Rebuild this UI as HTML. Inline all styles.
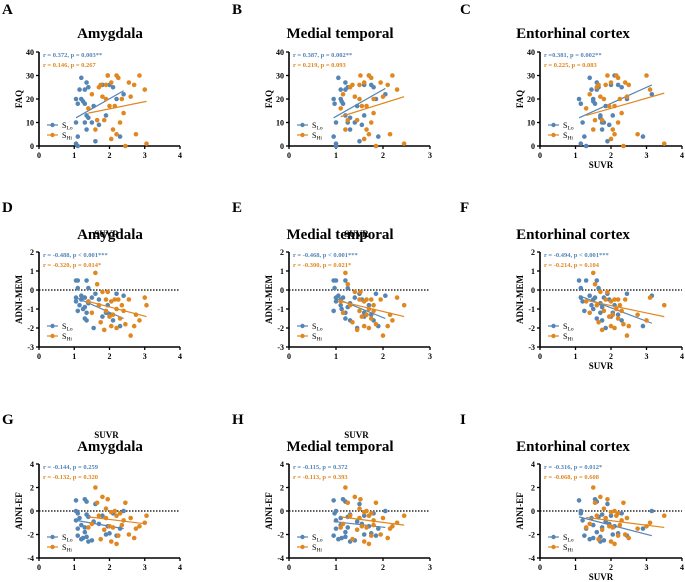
<!DOCTYPE html>
<html><head><meta charset="utf-8"><style>
body{margin:0;background:#fff;}
svg{display:block;font-family:"Liberation Serif",serif;}
</style></head><body>
<svg id="fig" width="685" height="582" viewBox="0 0 685 582"></svg>
<script>
// ---- data ----
const faqLo=[20,18,10,4,1,0,29,24,20,19,18,24,27,25,13,12,10,7,10,17,2,9,26,13,30,26,25,20,4,22];
const faqHi=[16,22,7,11,25,26,21,11,20,26,30,17,27,3,7,17,5,30,29,10,20,14,0,27,21,26,5,30,24,1];
const memLo=[0.5,0.1,-0.6,-1.1,-0.4,0.5,-0.3,-0.8,-0.5,-1.0,-0.4,-1.5,0.5,0.1,-1.2,-0.7,-0.9,-1.6,-0.4,-2.0,-0.2,-0.5,-1.4,-1.2,-0.8,-1.3,-1.6,-0.2,-1.9,-0.3];
const memHi=[-0.6,-1.2,0.9,0.3,-0.8,-1.7,-0.1,-2.1,-1.1,-0.5,-0.1,-1.4,-0.6,-1.9,-1.3,-0.5,-2.0,-1.0,-0.5,-1.5,-0.8,-1.1,-1.8,-0.5,-2.4,-1.9,-1.3,-1.6,-0.4,-0.8];
const efLo=[0.9,-0.2,-0.8,-2.1,0.0,-1.5,-2.4,-0.6,-1.2,-2.3,1.0,-1.8,0.8,-0.5,-2.2,-2.6,-1.4,-0.3,-2.5,-0.9,0.6,-1.1,-0.4,-2.0,-1.3,-1.9,-0.2,-2.1,-1.5,0.0];
const efHi=[-1.4,-1.1,2.0,0.7,-0.4,-2.4,1.2,-1.6,0.2,-0.6,1.0,-1.3,-0.1,-2.6,-1.4,0.0,-2.8,-0.4,-2.1,-0.2,-1.2,-0.8,0.7,-2.0,-0.6,-2.3,-1.5,-1.3,-1.0,-0.4];
const xLoA=[1.05,1.1,1.05,1.1,1.05,1.1,1.2,1.15,1.2,1.25,1.3,1.3,1.35,1.4,1.35,1.4,1.3,1.35,1.5,1.55,1.6,1.7,1.8,1.9,1.95,2.0,2.1,2.2,2.3,2.4];
const xHiA=[1.4,1.5,1.6,1.65,1.7,1.75,1.8,1.85,1.9,1.9,1.95,2.0,2.05,2.05,2.1,2.15,2.2,2.2,2.25,2.3,2.35,2.4,2.45,2.55,2.6,2.7,2.75,2.85,3.0,3.05];
const xLoB=[0.95,0.97,1.0,0.95,1.0,1.0,1.05,1.1,1.1,1.12,1.15,1.2,1.2,1.25,1.2,1.3,1.25,1.3,1.4,1.45,1.5,1.55,1.6,1.6,1.7,1.75,1.8,1.85,1.9,2.05];
const xHiB=[1.1,1.15,1.2,1.25,1.3,1.35,1.4,1.45,1.5,1.5,1.52,1.55,1.6,1.6,1.65,1.65,1.7,1.7,1.75,1.75,1.8,1.8,1.85,1.95,2.0,2.1,2.15,2.2,2.3,2.45];
const xLoC=[1.1,1.15,1.2,1.25,1.15,1.3,1.4,1.45,1.5,1.5,1.55,1.6,1.6,1.65,1.7,1.7,1.75,1.75,1.8,1.85,1.9,1.95,2.0,2.05,2.1,2.2,2.3,2.45,2.9,3.15];
const xHiC=[1.3,1.4,1.5,1.55,1.6,1.65,1.7,1.75,1.8,1.85,1.9,1.95,2.0,2.0,2.05,2.1,2.1,2.15,2.2,2.2,2.25,2.3,2.35,2.4,2.45,2.5,2.75,3.0,3.1,3.5];
// fitted line values at min/max x: [lo start, lo end, hi start, hi end]
const fitA=[12,23.5,14,19], fitB=[12,24.5,12.5,21], fitC=[12,26,13,22.5];
const fitD=[-0.4,-1.5,-0.6,-1.4], fitE=[-0.4,-1.5,-0.6,-1.4], fitF=[-0.3,-1.75,-0.55,-1.4];
const fitG=[-0.8,-1.5,-0.5,-1.1], fitH=[-0.9,-1.4,-0.5,-1.2], fitI=[-0.5,-2.1,-0.55,-1.4];
const statsLo=["r = 0.372, p = 0.003**","r = 0.387, p = 0.002**","r =0.381, p = 0.002**","r = -0.488, p < 0.001***","r = -0.468, p < 0.001***","r = -0.494, p < 0.001***","r = -0.144, p = 0.259","r = -0.115, p = 0.372","r = -0.316, p = 0.012*"];
const statsHi=["r = 0.146, p = 0.267","r = 0.219, p = 0.093","r = 0.225, p = 0.083","r = -0.320, p = 0.014*","r = -0.300, p = 0.021*","r = -0.214, p = 0.104","r = -0.132, p = 0.320","r = -0.113, p = 0.393","r = -0.068, p = 0.608"];
const titles=["Amygdala","Medial temporal","Entorhinal cortex"];
const letters=["A","B","C","D","E","F","G","H","I"];
const yLabels=["FAQ","ADNI-MEM","ADNI-EF"];
const yTicksRows=[[0,10,20,30,40],[-3,-2,-1,0,1,2],[-4,-2,0,2,4]];
const xTicksCols=[[0,1,2,3,4],[0,1,2,3],[0,1,2,3,4]];

// ---- layout ----
const BLUE="#5585b5", ORANGE="#e0871f";
const colGeo=[{x0:39,x1:180,max:4,tx:110,lx:2},{x0:289,x1:430,max:3,tx:340,lx:232},{x0:540,x1:682,max:4,tx:573,lx:460}];
const rowGeo=[{ytop:52,ybot:146,min:0,max:40,title:38,letter:14},{ytop:252,ybot:347,min:-3,max:2,title:239,letter:212},{ytop:464,ybot:558,min:-4,max:4,title:451,letter:424}];
const xs=[[xLoA,xHiA],[xLoB,xHiB],[xLoC,xHiC]];
const ys=[[faqLo,faqHi],[memLo,memHi],[efLo,efHi]];
const fits=[fitA,fitB,fitC,fitD,fitE,fitF,fitG,fitH,fitI];
const svg=document.getElementById('fig');
const NS="http://www.w3.org/2000/svg";
function el(tag,attrs,parent){const e=document.createElementNS(NS,tag);for(const k in attrs)e.setAttribute(k,attrs[k]);(parent||svg).appendChild(e);return e;}
function txt(s,attrs,parent){const t=el('text',attrs,parent);t.textContent=s;return t;}

for(let r=0;r<3;r++)for(let c=0;c<3;c++){
  const i=r*3+c, C=colGeo[c], R=rowGeo[r];
  const g=el('g',{});
  
  
  const X=v=>C.x0+(C.x1-C.x0)*v/C.max;
  const Y=v=>R.ybot-(R.ybot-R.ytop)*(v-R.min)/(R.max-R.min);
  const lt=txt(letters[i],{x:C.lx,y:R.letter,'font-size':15,'font-weight':'bold'},g);
  
  
  const tt=txt(titles[c],{x:C.tx,y:R.title,'font-size':15,'font-weight':'bold','text-anchor':'middle'},g);
  
  
  // zero line
  if(r>0){const z=el('line',{x1:C.x0,x2:C.x1,y1:Y(0),y2:Y(0),stroke:'#000','stroke-width':1.3,'stroke-dasharray':'1.5,1.5'},g);
    
    }
  // axes
  const ax=el('path',{d:`M${C.x0},${R.ytop}V${R.ybot}H${C.x1}`,stroke:'#000','stroke-width':1.6,fill:'none'},g);
  
  
  yTicksRows[r].forEach(v=>{el('line',{x1:C.x0-3,x2:C.x0,y1:Y(v),y2:Y(v),stroke:'#000','stroke-width':1.3},g);
    const t=txt(String(v).replace('-','-'),{x:C.x0-5,y:Y(v)+3,'font-size':8,'font-weight':'bold','text-anchor':'end'},g);
    
    });
  xTicksCols[c].forEach(v=>{el('line',{x1:X(v),x2:X(v),y1:R.ybot,y2:R.ybot+3,stroke:'#000','stroke-width':1.3},g);
    const t=txt(String(v),{x:X(v),y:R.ybot+12,'font-size':8,'font-weight':'bold','text-anchor':'middle'},g);
    
    });
  const yl=txt(yLabels[r],{x:0,y:0,'font-size':9,'font-weight':'bold','text-anchor':'middle',transform:`translate(${C.x0-17},${(R.ytop+R.ybot)/2}) rotate(-90)`},g);
  
  
  // SUVR x title (column C visible below; others overlap titles of next row)
  const sy=c===2?R.ybot+22:R.ybot+91;
  if(sy<582){const sl=txt('SUVR',{x:(C.x0+C.x1)/2-(c===2?10:3),y:sy,'font-size':9,'font-weight':'bold','text-anchor':'middle'},g);
    
    }
  // points
  [[BLUE,0],[ORANGE,1]].forEach(([col,k])=>{
    const xv=xs[c][k], yv=ys[r][k];
    xv.forEach((x,j)=>{const p=el('circle',{cx:X(x),cy:Y(yv[j]),r:2.3,fill:col},g);
      
      });
    const f=fits[i];
    const l=el('line',{x1:X(Math.min(...xv)),x2:X(Math.max(...xv)),y1:Y(f[k*2]),y2:Y(f[k*2+1]),stroke:col,'stroke-width':1.2},g);
    
    
    const st=txt(k?statsHi[i]:statsLo[i],{x:C.x0+4,y:R.ytop+5+k*10,'font-size':6.5,'font-weight':'bold',fill:col},g);
    
    
    // legend
    const ly=R.ybot-21+k*10, lx=C.x0+8;
    const lg=el('g',{},g);
    
    
    el('line',{x1:lx,x2:lx+11,y1:ly,y2:ly,stroke:col,'stroke-width':1.2},lg);
    el('circle',{cx:lx+5.5,cy:ly,r:2.2,fill:col},lg);
    const tx=el('text',{x:lx+15,y:ly+3,'font-size':8},lg);
    tx.textContent='S';
    const sub=el('tspan',{'font-size':5.5,dy:1.5},tx);sub.textContent=k?'Hi':'Lo';
  });
}
</script>
</body></html>
